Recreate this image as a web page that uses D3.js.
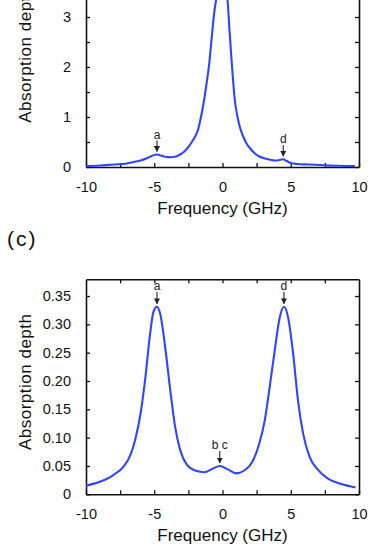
<!DOCTYPE html>
<html>
<head>
<meta charset="utf-8">
<script src="https://cdn.jsdelivr.net/npm/d3@7/dist/d3.min.js"></script>
<style>
  body { margin: 0; background: #fff; }
  svg { display: block; font-family: "Liberation Sans", Arial, sans-serif; }
  .tick text { font-size: 14.5px; fill: #111; }
  .domain, .tick line { stroke: #111; }
</style>
</head>
<body>
<svg id="chart" width="388" height="548"></svg>
<script>
// ---- data ----
// panel (b): frequency (GHz) and absorption depth
var freqB = [-10, -9, -8, -7, -6.5, -6, -5.5, -5.2, -4.8, -4.5, -4.2, -3.8, -3.4, -3.1, -2.8,
  -2.5, -2.2, -2, -1.8, -1.54, -1.3, -1.17, -1, -0.81, -0.6, -0.44, -0.3, -0.15, -0.03,
  0.12, 0.25, 0.37, 0.53, 0.7, 0.9, 1.1, 1.27, 1.5, 1.76, 2, 2.37, 2.7, 3.1, 3.5, 3.83,
  4.1, 4.45, 4.7, 5.05, 5.5, 6.27, 7.5, 8.5, 9.7];
var depthB = [0.02, 0.03, 0.05, 0.07, 0.1, 0.13, 0.18, 0.22, 0.25, 0.23, 0.205, 0.195, 0.21, 0.25, 0.31,
  0.4, 0.52, 0.61, 0.74, 1.05, 1.42, 1.67, 2.0, 2.53, 3.1, 3.4, 3.68, 3.92, 4.0,
  3.88, 3.62, 3.33, 2.66, 2.0, 1.34, 1.0, 0.8, 0.62, 0.47, 0.38, 0.27, 0.21, 0.17, 0.145, 0.13,
  0.135, 0.155, 0.12, 0.075, 0.06, 0.05, 0.035, 0.025, 0.02];

// panel (c)
var freqC = [-10, -9, -8, -7.25, -6.75, -6.4, -6, -5.67, -5.3, -5.06, -4.8, -4.57, -4.2, -3.83,
  -3.47, -3.1, -2.6, -2, -1.3, -0.65, -0.2, 0.4, 1, 1.6, 2.2, 2.7, 3.1, 3.46, 3.83, 4.2,
  4.5, 4.8, 5.17, 5.53, 5.9, 6.38, 7, 7.7, 8.7, 9.75];
var depthC = [0.015, 0.022, 0.034, 0.049, 0.069, 0.096, 0.143, 0.202, 0.284, 0.322, 0.331, 0.319, 0.26, 0.184,
  0.119, 0.078, 0.052, 0.042, 0.039, 0.046, 0.05, 0.044, 0.037, 0.042, 0.058, 0.09, 0.131, 0.19, 0.255, 0.313,
  0.331, 0.313, 0.249, 0.166, 0.108, 0.066, 0.043, 0.028, 0.018, 0.012];

// peak labels
var peakLabelsB = ['a', 'd'];
var peakFreqB = [-4.8, 4.45];
var peakLabelsC = ['a', 'b c', 'd'];
var peakFreqC = [-4.8, -0.2, 4.5];

var xTicks = [-10, -7.5, -5, -2.5, 0, 2.5, 5, 7.5, 10];
var yTicksB = [0, 0.5, 1, 1.5, 2, 2.5, 3, 3.5, 4];
var yTicksC = [0, 0.05, 0.1, 0.15, 0.2, 0.25, 0.3, 0.35];

var lineColor = '#2f45ff';
var svg = d3.select('#chart');

var defs = svg.append('defs');
defs.append('marker')
  .attr('id', 'head')
  .attr('viewBox', '0 0 10 10')
  .attr('refX', 9).attr('refY', 5)
  .attr('markerWidth', 6).attr('markerHeight', 6)
  .attr('markerUnits', 'userSpaceOnUse')
  .attr('orient', 'auto')
  .append('path')
  .attr('d', 'M0,0 L10,5 L0,10 Z')
  .attr('fill', '#222');

function panel(opt) {
  var left = 86, right = 359, top = opt.top, height = 215;
  var x = d3.scaleLinear().domain([-10, 10]).range([left, right]);
  var y = d3.scaleLinear().domain([0, opt.ymax]).range([top + height, top]);
  var g = svg.append('g');

  // axes, ticks point inward
  g.append('g')
    .attr('transform', 'translate(0,' + (top + height) + ')')
    .call(d3.axisBottom(x).tickValues(xTicks).tickSize(-4).tickSizeOuter(0).tickPadding(14.5)
      .tickFormat(function(d) { return d % 5 === 0 ? d : ''; }));
  g.append('g')
    .attr('transform', 'translate(0,' + top + ')')
    .call(d3.axisTop(x).tickValues(xTicks.slice(1, -1)).tickSize(-4).tickSizeOuter(0).tickFormat(''));
  g.append('g')
    .attr('transform', 'translate(' + left + ',0)')
    .call(d3.axisLeft(y).tickValues(opt.yTicks).tickSize(-4).tickSizeOuter(0).tickPadding(15)
      .tickFormat(opt.yFormat));
  g.append('g')
    .attr('transform', 'translate(' + right + ',0)')
    .call(d3.axisRight(y).tickValues(opt.yTicks).tickSize(-4).tickSizeOuter(0).tickFormat(''));
  g.selectAll('.domain').attr('stroke-width', 1.6);
  g.selectAll('.tick line').attr('stroke-width', 1.3);

  var pts = d3.zip(opt.xs, opt.ys);
  var line = d3.line()
    .x(function(d) { return x(d[0]); })
    .y(function(d) { return y(d[1]); })
    .curve(d3.curveMonotoneX);
  g.append('path')
    .datum(pts)
    .attr('d', line)
    .attr('fill', 'none')
    .attr('stroke', lineColor)
    .attr('stroke-width', 2.1);

  // arrows to the peaks
  var interp = function(f) {
    var i = d3.bisectLeft(opt.xs, f);
    if (i <= 0) return opt.ys[0];
    var x0 = opt.xs[i - 1], x1 = opt.xs[i];
    var t = (f - x0) / (x1 - x0);
    return opt.ys[i - 1] + t * (opt.ys[i] - opt.ys[i - 1]);
  };
  opt.labels.forEach(function(lab, i) {
    var px = x(opt.peaks[i]);
    var py = y(interp(opt.peaks[i])) - 3;
    g.append('line')
      .attr('x1', px).attr('x2', px)
      .attr('y1', py - opt.arrowLen).attr('y2', py)
      .attr('stroke', '#222').attr('stroke-width', 1.1)
      .attr('marker-end', 'url(#head)');
    g.append('text')
      .attr('x', px).attr('y', py - opt.arrowLen - 2)
      .attr('text-anchor', 'middle')
      .attr('font-size', 12)
      .attr('fill', '#222')
      .text(lab);
  });

  // axis titles
  g.append('text')
    .attr('x', (left + right) / 2)
    .attr('y', top + height + 47)
    .attr('text-anchor', 'middle')
    .attr('font-size', 17)
    .attr('fill', '#111')
    .text('Frequency (GHz)');
  g.append('text')
    .attr('transform', 'translate(31,' + (top + height / 2 - 5) + ') rotate(-90)')
    .attr('text-anchor', 'middle')
    .attr('font-size', 17)
    .attr('letter-spacing', 0.5)
    .attr('fill', '#111')
    .text('Absorption depth');
}

panel({
  top: -48, ymax: 4.3, xs: freqB, ys: depthB, yTicks: yTicksB,
  yFormat: function(d) { return d % 1 === 0 && d < 4 ? d : ''; },
  labels: peakLabelsB, peaks: peakFreqB, arrowLen: 11
});

panel({
  top: 279.3, ymax: 0.3795, xs: freqC, ys: depthC, yTicks: yTicksC,
  yFormat: function(d) { return d === 0 ? '0' : d3.format('.2f')(d); },
  labels: peakLabelsC, peaks: peakFreqC, arrowLen: 12
});

svg.append('text')
  .attr('x', 7).attr('y', 246)
  .attr('font-size', 21)
  .attr('letter-spacing', 2)
  .attr('fill', '#111')
  .text('(c)');
</script>
</body>
</html>
